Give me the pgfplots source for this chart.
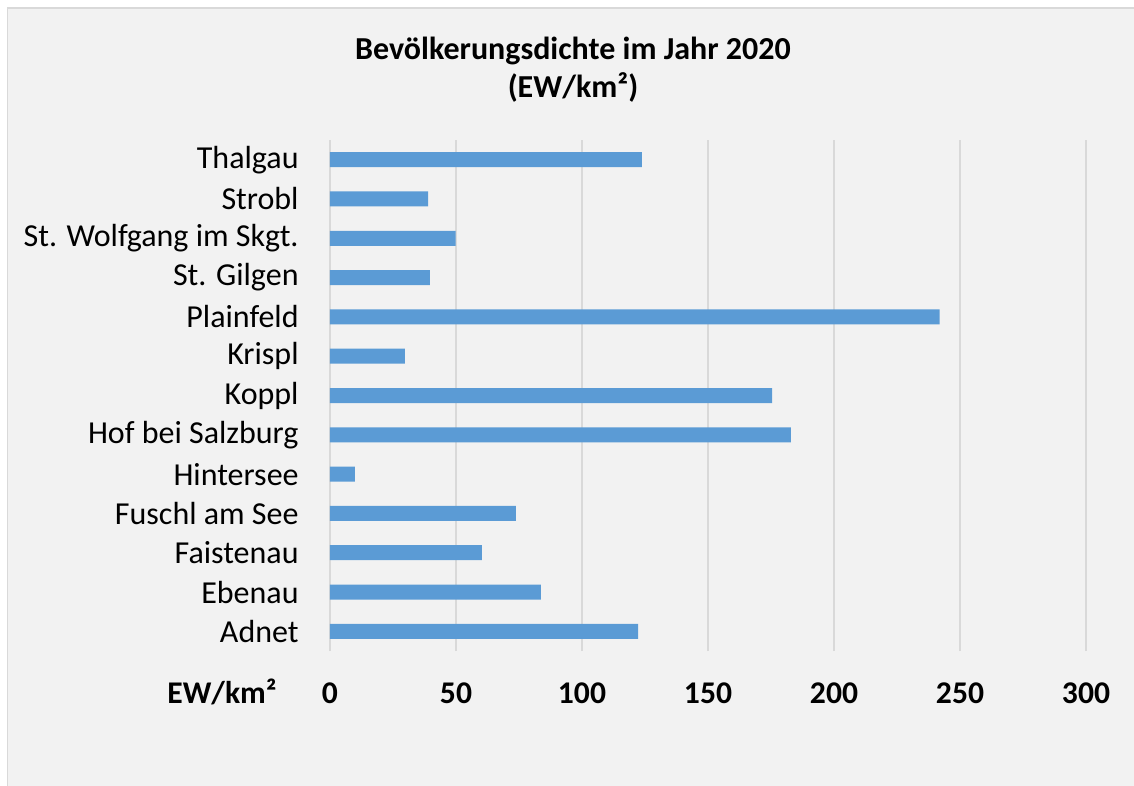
\documentclass[border=0pt]{standalone}
\usepackage{fontspec}
\setmainfont{Carlito}
\usepackage{pgfplots}
\pgfplotsset{compat=1.18}
\definecolor{barblue}{HTML}{5B9BD5}
\definecolor{gridgray}{HTML}{D9D9D9}
\definecolor{bggray}{HTML}{F2F2F2}
\begin{document}
\begin{tikzpicture}
% 1px = 0.5pt, origin at top left
\useasboundingbox (0,0) rectangle (567pt,-393pt);
\fill[white] (0,0) rectangle (567pt,-393pt);
\filldraw[fill=bggray, draw=gridgray, line width=0.8pt] (3.7pt,-4pt) rectangle (575pt,-400pt);
\node[font=\fontsize{16}{19}\selectfont\bfseries, anchor=base] at (286.5pt,-30pt) {Bevölkerungsdichte im Jahr 2020};
\node[font=\fontsize{16}{19}\selectfont\bfseries, anchor=base] at (286.5pt,-49pt) {(EW/km²)};
\begin{axis}[
    at={(165pt,-325.5pt)}, anchor=south west,
    scale only axis,
    width=378pt, height=255.5pt,
    xbar, bar width=7.5pt,
    xmin=0, xmax=300, ymin=-0.5, ymax=12.5,
    xtick={0,50,...,300},
    ytick={0,...,12},
    yticklabels={Adnet, Ebenau, Faistenau, Fuschl am See, Hintersee, Hof bei Salzburg, Koppl, Krispl, Plainfeld, St. Gilgen, St. Wolfgang im Skgt., Strobl, Thalgau},
    /pgf/number format/assume math mode=true,
    axis line style={draw=none},
    major tick length=0pt,
    xmajorgrids, ymajorgrids=false,
    major grid style={gridgray, line width=0.9pt},
    yticklabel style={font=\fontsize{16}{19}\selectfont, inner sep=0pt, xshift=-15.5pt},
    xticklabel style={font=\fontsize{15.8}{18}\selectfont\bfseries, inner sep=0pt, yshift=-15.5pt},
    xlabel={EW/km²},
    xlabel style={font=\fontsize{15.8}{18}\selectfont\bfseries, inner sep=0pt, anchor=east, at={(rel axis cs:0,0)}, xshift=-26.5pt, yshift=-20.5pt},
    clip=false,
]
\addplot[fill=barblue, draw=none] coordinates {
    (122.3,0)
    (83.7,1)
    (60.3,2)
    (73.8,3)
    (9.9,4)
    (182.9,5)
    (175.4,6)
    (29.7,7)
    (241.9,8)
    (39.6,9)
    (49.9,10)
    (38.9,11)
    (123.8,12)
};
\end{axis}
\end{tikzpicture}
\end{document}
